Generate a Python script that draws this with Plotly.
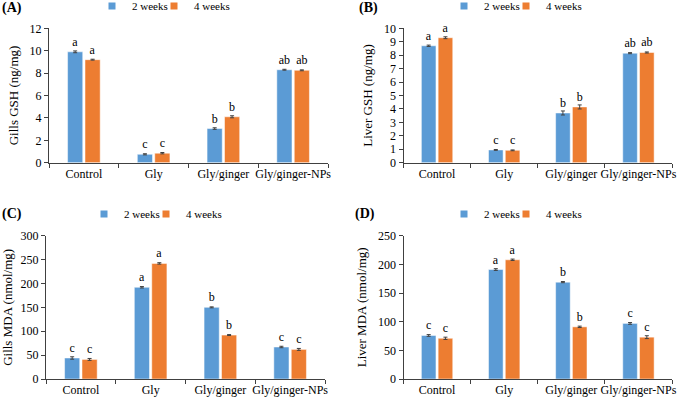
import plotly.graph_objects as go

categories = ["Control", "Gly", "Gly/ginger", "Gly/ginger-NPs"]
series_names = ["2 weeks", "4 weeks"]

gills_gsh_2w = [9.9, 0.75, 3.05, 8.3]
gills_gsh_4w = [9.2, 0.85, 4.1, 8.25]
gills_gsh_err_2w = [0.08, 0.05, 0.07, 0.04]
gills_gsh_err_4w = [0.04, 0.06, 0.09, 0.04]
gills_gsh_let_2w = ["a", "c", "b", "ab"]
gills_gsh_let_4w = ["a", "c", "b", "ab"]

liver_gsh_2w = [8.7, 0.95, 3.7, 8.15]
liver_gsh_4w = [9.3, 0.92, 4.15, 8.2]
liver_gsh_err_2w = [0.05, 0.03, 0.15, 0.04]
liver_gsh_err_4w = [0.07, 0.03, 0.15, 0.04]
liver_gsh_let_2w = ["a", "c", "b", "ab"]
liver_gsh_let_4w = ["a", "c", "b", "ab"]

gills_mda_2w = [44, 192, 150, 67]
gills_mda_4w = [41, 242, 92, 62]
gills_mda_err_2w = [2.5, 1.5, 1.0, 1.5]
gills_mda_err_4w = [2.0, 1.5, 1.0, 2.0]
gills_mda_let_2w = ["c", "a", "b", "c"]
gills_mda_let_4w = ["c", "a", "b", "c"]

liver_mda_2w = [76, 191, 169, 97]
liver_mda_4w = [71, 208, 91, 73]
liver_mda_err_2w = [1.5, 1.5, 1.0, 1.5]
liver_mda_err_4w = [2.0, 1.2, 1.2, 2.5]
liver_mda_let_2w = ["c", "a", "b", "c"]
liver_mda_let_4w = ["c", "a", "b", "c"]

y_titles = ["Gills GSH (ng/mg)", "Liver GSH (ng/mg)", "Gills MDA (nmol/mg)", "Liver MDA (nmol/mg)"]
y_ranges = [[0, 12], [0, 10], [0, 300], [0, 250]]
y_dticks = [2, 1, 50, 50]
panel_labels = ["(A)", "(B)", "(C)", "(D)"]

BLUE = "#5B9BD5"
ORANGE = "#ED7D31"
FONT = "Liberation Serif"
W, H = 679, 398

panels = [
    (gills_gsh_2w, gills_gsh_4w, gills_gsh_err_2w, gills_gsh_err_4w, gills_gsh_let_2w, gills_gsh_let_4w),
    (liver_gsh_2w, liver_gsh_4w, liver_gsh_err_2w, liver_gsh_err_4w, liver_gsh_let_2w, liver_gsh_let_4w),
    (gills_mda_2w, gills_mda_4w, gills_mda_err_2w, gills_mda_err_4w, gills_mda_let_2w, gills_mda_let_4w),
    (liver_mda_2w, liver_mda_4w, liver_mda_err_2w, liver_mda_err_4w, liver_mda_let_2w, liver_mda_let_4w),
]

# pixel boxes (x0, x1, ytop, ybottom)
boxes = [
    (49, 328, 28.3, 162.7),
    (403.5, 672, 28.3, 162.7),
    (46, 325, 235.7, 379),
    (403.5, 672, 235.7, 379),
]
# left x of each of the two legend entries, and vertical centre
legend_pos = [((92, 154), 6), ((444, 506), 6), ((84, 146), 214), ((444, 506), 214)]
label_pos = [(0, 8), (357, 8), (0, 214), (353, 214)]

fig = go.Figure()
layout = {}
annotations = []
leg_idx = 0
for i, (v2, v4, e2, e4, l2, l4) in enumerate(panels):
    n = "" if i == 0 else str(i + 1)
    xa, ya = "x" + n, "y" + n
    (lx1, lx2), ly = legend_pos[i]
    for name, vals, errs, lets, col, lx in [(series_names[0], v2, e2, l2, BLUE, lx1),
                                            (series_names[1], v4, e4, l4, ORANGE, lx2)]:
        leg_idx += 1
        lg = "legend" if leg_idx == 1 else "legend" + str(leg_idx)
        fig.add_trace(go.Bar(
            x=categories, y=vals, name=name, xaxis=xa, yaxis=ya, showlegend=False,
            marker=dict(color=col, line=dict(color="white", width=0.5)),
            error_y=dict(type="data", array=errs, color="#404040", thickness=1, width=2),
            text=lets, textposition="outside", constraintext="none", cliponaxis=False,
            textfont=dict(family=FONT, size=12, color="black"),
        ))
        fig.add_trace(go.Scatter(
            x=[None], y=[None], name=name, xaxis=xa, yaxis=ya, legend=lg, mode="markers",
            marker=dict(symbol="square", size=7, color=col), showlegend=True,
        ))
        layout[lg] = dict(
            orientation="h", x=lx / W, y=1 - ly / H, xanchor="left", yanchor="middle",
            font=dict(family=FONT, size=11, color="black"), bgcolor="rgba(0,0,0,0)",
            itemwidth=30,
        )
    x0, x1, yt, yb = boxes[i]
    layout["xaxis" + n] = dict(
        domain=[x0 / W, x1 / W], anchor=ya, type="category", automargin=False,
        showline=True, linecolor="#404040", linewidth=1, tickangle=0,
        ticks="outside", tickson="boundaries", ticklen=4, tickcolor="#404040",
        tickfont=dict(family=FONT, size=12, color="black"), showgrid=False,
    )
    layout["yaxis" + n] = dict(
        domain=[1 - yb / H, 1 - yt / H], anchor=xa, range=y_ranges[i], dtick=y_dticks[i],
        showline=True, linecolor="#404040", linewidth=1, automargin=False,
        ticks="outside", ticklen=4, tickcolor="#404040", showgrid=False, zeroline=False,
        tickfont=dict(family=FONT, size=12, color="black"),
        title=dict(text=y_titles[i], font=dict(family=FONT, size=13, color="black"), standoff=8),
    )
    px, py = label_pos[i]
    annotations.append(dict(
        text="<b>" + panel_labels[i] + "</b>", xref="paper", yref="paper",
        x=px / W, y=1 - py / H, xanchor="left", yanchor="middle", showarrow=False,
        font=dict(family=FONT, size=14, color="black"),
    ))

fig.update_layout(
    width=W, height=H, margin=dict(l=0, r=0, t=0, b=0, autoexpand=False),
    paper_bgcolor="white", plot_bgcolor="white",
    barmode="group", bargap=0.5, bargroupgap=0.13,
    annotations=annotations,
    **layout,
)
fig.write_html("out.html", config={"displayModeBar": False},
               post_script="document.body.style.margin='0';")
